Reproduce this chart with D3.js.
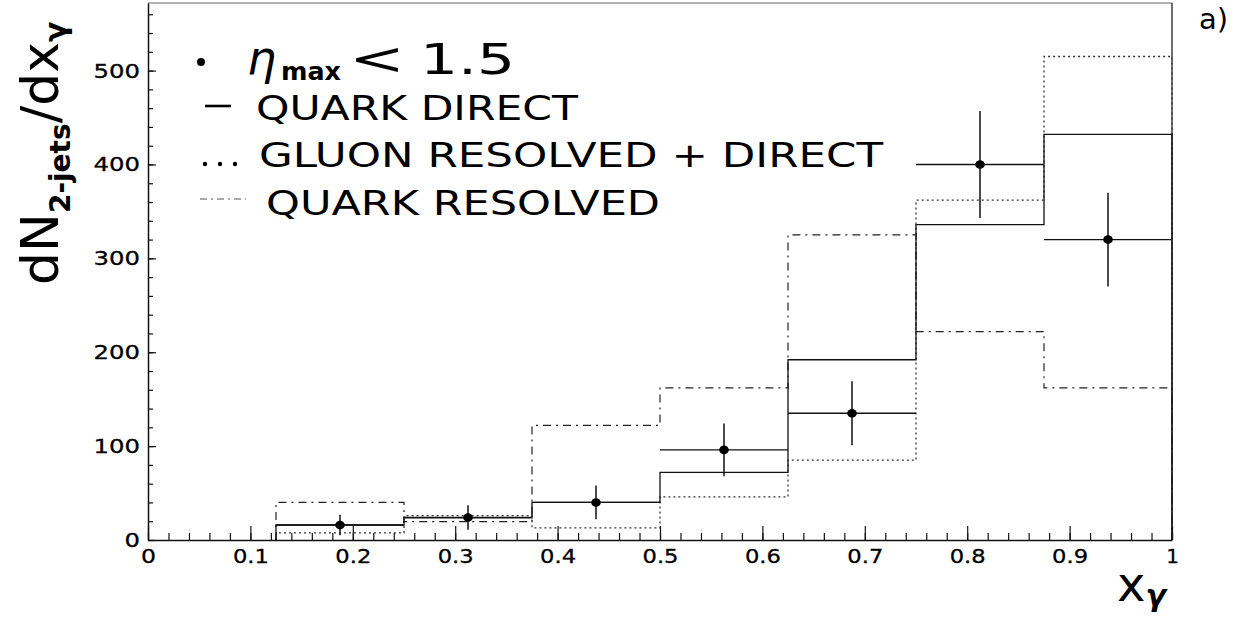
<!DOCTYPE html>
<html>
<head>
<meta charset="utf-8">
<script src="https://cdn.jsdelivr.net/npm/d3@7"></script>
<style>
  html, body { margin: 0; padding: 0; background: #fff; }
  svg { display: block; font-family: "DejaVu Sans", sans-serif; }
</style>
</head>
<body>
<svg id="chart" width="1238" height="620"></svg>
<script>
// ---- data ----
const binEdges = [0.125, 0.25, 0.375, 0.5, 0.625, 0.75, 0.875, 1.0];
const quarkDirect   = [16, 23.5, 40, 72, 192, 336, 432];
const gluonResDir   = [7.5, 26, 13, 46, 85, 362, 515];
const quarkResolved = [40, 19.5, 122, 162, 325, 222, 162];
const dataValues    = [16, 24, 40, 96, 135, 400, 320];
const dataErrors    = [11, 13, 18, 28, 34, 57, 50];
const yTicks = [0, 100, 200, 300, 400, 500];
const xTicks = [0, 0.1, 0.2, 0.3, 0.4, 0.5, 0.6, 0.7, 0.8, 0.9, 1];
const xTickLabels = ["0", "0.1", "0.2", "0.3", "0.4", "0.5", "0.6", "0.7", "0.8", "0.9", "1"];
const legendLabels = ["QUARK DIRECT", "GLUON RESOLVED + DIRECT", "QUARK RESOLVED"];

// ---- layout ----
const L = 148, R = 1172, T = 3, B = 540;
const svg = d3.select("#chart");
const x = d3.scaleLinear().domain([0, 1]).range([L, R]);
const y = d3.scaleLinear().domain([0, 572]).range([B, T]);

// frame (top + right)
svg.append("line").attr("x1", L).attr("x2", R).attr("y1", T).attr("y2", T)
  .attr("stroke", "#666").attr("stroke-width", 1.2);
svg.append("line").attr("x1", R).attr("x2", R).attr("y1", T).attr("y2", B)
  .attr("stroke", "#222").attr("stroke-width", 1.3);

// histograms
function stepPoints(vals) {
  const pts = [[binEdges[0], 0]];
  vals.forEach((v, i) => pts.push([binEdges[i], v]));
  pts.push([binEdges[binEdges.length - 1], 0]);
  return pts;
}
const line = d3.line().x(d => x(d[0])).y(d => y(d[1])).curve(d3.curveStepAfter);

svg.append("path").attr("d", line(stepPoints(quarkResolved)))
  .attr("fill", "none").attr("stroke", "#222").attr("stroke-width", 1.2)
  .attr("stroke-dasharray", "8,5,2,5");
svg.append("path").attr("d", line(stepPoints(gluonResDir)))
  .attr("fill", "none").attr("stroke", "#333").attr("stroke-width", 1.3)
  .attr("stroke-dasharray", "2,3");
svg.append("path").attr("d", line(stepPoints(quarkDirect)))
  .attr("fill", "none").attr("stroke", "#111").attr("stroke-width", 1.3);

// data points with error bars
const pts = dataValues.map((v, i) => ({
  x0: binEdges[i], x1: binEdges[i + 1], xc: (binEdges[i] + binEdges[i + 1]) / 2, v, e: dataErrors[i]
}));
const g = svg.append("g");
g.selectAll(".hbar").data(pts).join("line")
  .attr("x1", d => x(d.x0)).attr("x2", d => x(d.x1))
  .attr("y1", d => y(d.v)).attr("y2", d => y(d.v))
  .attr("stroke", "#111").attr("stroke-width", 1.3);
g.selectAll(".vbar").data(pts).join("line")
  .attr("x1", d => x(d.xc)).attr("x2", d => x(d.xc))
  .attr("y1", d => y(d.v - d.e)).attr("y2", d => y(d.v + d.e))
  .attr("stroke", "#111").attr("stroke-width", 1.5);
g.selectAll("ellipse").data(pts).join("ellipse")
  .attr("cx", d => x(d.xc)).attr("cy", d => y(d.v)).attr("rx", 4.8).attr("ry", 4.3).attr("fill", "#000");

// axes
const yAxis = d3.axisLeft(y).tickValues(yTicks).tickSizeInner(-8).tickSizeOuter(0).tickPadding(8);
const yMinor = d3.axisLeft(y).tickValues(d3.range(0, 572, 20)).tickSize(-5).tickFormat("");
const xAxis = d3.axisBottom(x).tickValues(xTicks).tickSizeInner(-14).tickSizeOuter(0).tickPadding(9)
  .tickFormat((d, i) => xTickLabels[i]);
const xMinor = d3.axisBottom(x).tickValues(d3.range(0, 1.0001, 0.02)).tickSize(-7).tickFormat("");

const gym = svg.append("g").attr("transform", `translate(${L},0)`).call(yMinor);
gym.select(".domain").remove();
const gy = svg.append("g").attr("transform", `translate(${L},0)`).call(yAxis);
const gxm = svg.append("g").attr("transform", `translate(0,${B})`).call(xMinor);
gxm.select(".domain").remove();
const gx = svg.append("g").attr("transform", `translate(0,${B})`).call(xAxis);

[gy, gx, gym, gxm].forEach(a => {
  a.selectAll("line").attr("stroke", "#111").attr("stroke-width", 1.2);
  a.select(".domain").attr("stroke", "#111").attr("stroke-width", 1.5);
});
gy.selectAll("text").attr("font-size", 20).attr("font-family", "DejaVu Sans").attr("fill", "#000")
  .attr("stroke", "#000").attr("stroke-width", 0.3)
  .attr("textLength", d => String(d).length * 15.5).attr("lengthAdjust", "spacingAndGlyphs");
gx.selectAll("text").attr("font-size", 20).attr("font-family", "DejaVu Sans").attr("fill", "#000")
  .attr("stroke", "#000").attr("stroke-width", 0.3)
  .each(function(d, i) {
    const s = xTickLabels[i];
    if (s.length > 1) d3.select(this).attr("textLength", 36).attr("lengthAdjust", "spacingAndGlyphs");
    else if (s === "0") d3.select(this).attr("textLength", 15).attr("lengthAdjust", "spacingAndGlyphs");
  });

// y-axis title
const yt = svg.append("text").attr("transform", "translate(58,285) rotate(-90)").attr("fill", "#000");
yt.append("tspan").attr("font-size", 52).text("dN");
yt.append("tspan").attr("font-size", 28).attr("font-weight", "bold").attr("dy", 12).text("2-jets");
yt.append("tspan").attr("font-size", 52).attr("dy", -12).text("/dx");
yt.append("tspan").attr("font-size", 30).attr("font-weight", "bold").attr("dy", 8).text("γ");

// x-axis title
const xt = svg.append("text").attr("x", 1117).attr("y", 601).attr("fill", "#000");
xt.append("tspan").attr("font-size", 48).text("x");
xt.append("tspan").attr("font-size", 30).attr("font-weight", "bold").attr("font-style", "italic").attr("dy", 5).text("γ");

// panel label
svg.append("text").attr("x", 1199).attr("y", 29).attr("font-size", 29).attr("fill", "#000").text("a)");

// legend
svg.append("circle").attr("cx", 201).attr("cy", 62).attr("r", 4).attr("fill", "#000");
svg.append("text").attr("x", 247).attr("y", 74).attr("font-size", 46).attr("font-style", "italic").text("η");
svg.append("text").attr("x", 281).attr("y", 80).attr("font-size", 24).attr("font-weight", "bold")
  .attr("textLength", 60).attr("lengthAdjust", "spacingAndGlyphs").text("max");
svg.append("text").attr("x", 349).attr("y", 74).attr("font-size", 44)
  .attr("textLength", 56).attr("lengthAdjust", "spacingAndGlyphs").text("<");
svg.append("text").attr("x", 420).attr("y", 74).attr("font-size", 43)
  .attr("textLength", 95).attr("lengthAdjust", "spacingAndGlyphs").text("1.5");

svg.append("line").attr("x1", 205).attr("x2", 231).attr("y1", 106).attr("y2", 106)
  .attr("stroke", "#000").attr("stroke-width", 2.6);
[205, 220, 235].forEach(cx => svg.append("circle").attr("cx", cx).attr("cy", 164).attr("r", 2.2).attr("fill", "#000"));
svg.append("line").attr("x1", 200).attr("x2", 246).attr("y1", 199).attr("y2", 199)
  .attr("stroke", "#555").attr("stroke-width", 1.1).attr("stroke-dasharray", "7,4,2,4");

const legX = [256, 259, 266];
const legY = [120, 167, 215];
const legW = [322, 624, 394];
legendLabels.forEach((s, i) => {
  svg.append("text").attr("x", legX[i]).attr("y", legY[i]).attr("font-size", 34).attr("fill", "#000")
    .attr("textLength", legW[i]).attr("lengthAdjust", "spacingAndGlyphs").text(s);
});
</script>
</body>
</html>
